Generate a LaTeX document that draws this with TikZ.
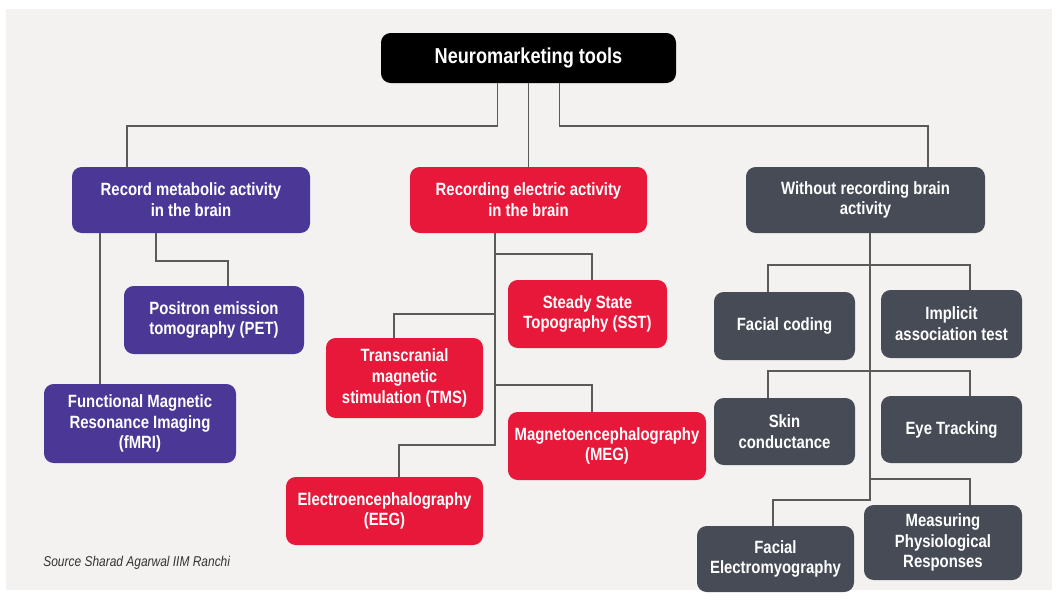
\documentclass[tikz,border=0pt]{standalone}
\usepackage{fontspec}
\setmainfont{Liberation Sans}[FakeStretch=0.84]
\usetikzlibrary{calc}
\definecolor{pagegrey}{HTML}{F4F2F1}
\definecolor{linegrey}{HTML}{5A5A5A}
\definecolor{metpurple}{HTML}{4B3796}
\definecolor{elecred}{HTML}{E8183A}
\definecolor{slategrey}{HTML}{464B55}
\begin{document}
\begin{tikzpicture}[x=0.02cm, y=-0.02cm,
    tool/.style={rectangle, rounded corners=5.5pt, text=white, align=center, inner sep=0pt,
        font=\bfseries\fontsize{10.1}{11.8}\selectfont},
    dims/.style 2 args={minimum width=#1*0.02cm, minimum height=#2*0.02cm},
    metab/.style={tool, fill=metpurple},
    elect/.style={tool, fill=elecred},
    nobrain/.style={tool, fill=slategrey},
    link/.style={draw=linegrey, line width=1.1pt}
]
    % Page
    \useasboundingbox (0,0) rectangle (1059,600);
    \fill[pagegrey] (6,9) rectangle (1052,590);

    % Root
    \node[tool, fill=black, dims={295}{50}, font=\bfseries\fontsize{12.3}{14}\selectfont] (root) at (528.5,58) {Neuromarketing tools};

    % Three families
    \node[metab, dims={238}{66}] (met) at (191,200) {Record metabolic activity\\in the brain};
    \node[elect, dims={237}{66}] (elec) at (528.5,200) {Recording electric activity\\in the brain};
    \node[nobrain, dims={239}{66}] (nonb) at (865.5,200) {Without recording brain\\activity};

    % Metabolic tools
    \node[metab, dims={180}{68}] (pet) at (214,320) {Positron emission\\tomography (PET)};
    \node[metab, dims={192}{79}] (fmri) at (140,423.5) {Functional Magnetic\\Resonance Imaging\\(fMRI)};

    % Electric tools
    \node[elect, dims={159}{68}] (sst) at (587.5,314) {Steady State\\Topography (SST)};
    \node[elect, dims={157}{80}] (tms) at (404.5,378) {Transcranial\\magnetic\\stimulation (TMS)};
    \node[elect, dims={198}{68}] (meg) at (607,446) {Magnetoencephalography\\(MEG)};
    \node[elect, dims={197}{68}] (eeg) at (384.5,511) {Electroencephalography\\(EEG)};

    % Tools without brain recording
    \node[nobrain, dims={141}{68}] (fcod) at (784.5,326) {Facial coding};
    \node[nobrain, dims={141}{68}] (iat) at (951.5,324) {Implicit\\association test};
    \node[nobrain, dims={141}{67}] (skin) at (784.5,431.5) {Skin\\conductance};
    \node[nobrain, dims={141}{67}] (eye) at (951.5,429.5) {Eye Tracking};
    \node[nobrain, dims={157}{66}] (femg) at (775.5,559) {Facial\\Electromyography};
    \node[nobrain, dims={158}{75}] (mpr) at (943,542.5) {Measuring\\Physiological\\Responses};

    % Source
    \node[font=\itshape\fontsize{8.1}{9}\selectfont, text=black!80, anchor=west, inner sep=0pt] (src) at (43,563) {Source Sharad Agarwal IIM Ranchi};

    % Root links
    \draw[link] ($(root.south)+(-31,0)$) -- ++(0,43) -| ($(met.north)+(-64,0)$);
    \draw[link] (root.south) -- (elec.north);
    \draw[link] ($(root.south)+(31,0)$) -- ++(0,43) -| ($(nonb.north)+(62.5,0)$);

    % Metabolic links
    \draw[link] ($(met.south)+(-91,0)$) coordinate (mt) -- (mt |- fmri.north);
    \draw[link] ($(met.south)+(-35,0)$) -- ++(0,28) -| ($(pet.north)+(14,0)$);

    % Electric links
    \coordinate (et) at ($(elec.south)+(-33.5,0)$);
    \draw[link] (et) -- ++(0,212) -| ($(eeg.north)+(14.5,0)$);
    \draw[link] ($(et)+(0,21)$) -| ($(sst.north)+(4.5,0)$);
    \draw[link] ($(et)+(0,81)$) -| ($(tms.north)+(-10.5,0)$);
    \draw[link] ($(et)+(0,152)$) -| ($(meg.north)+(-15,0)$);

    % Links without brain recording
    \coordinate (nt) at ($(nonb.south)+(4.5,0)$);
    \draw[link] (nt) -- ++(0,267) -| ($(femg.north)+(-2.5,0)$);
    \draw[link] ($(fcod.north)+(-16.5,0)$) |- ($(nt)+(0,32)$) -| ($(iat.north)+(18.5,0)$);
    \draw[link] ($(skin.north)+(-16.5,0)$) |- ($(nt)+(0,138)$) -| ($(eye.north)+(18.5,0)$);
    \draw[link] ($(nt)+(0,246)$) -| ($(mpr.north)+(27,0)$);
\end{tikzpicture}
\end{document}
